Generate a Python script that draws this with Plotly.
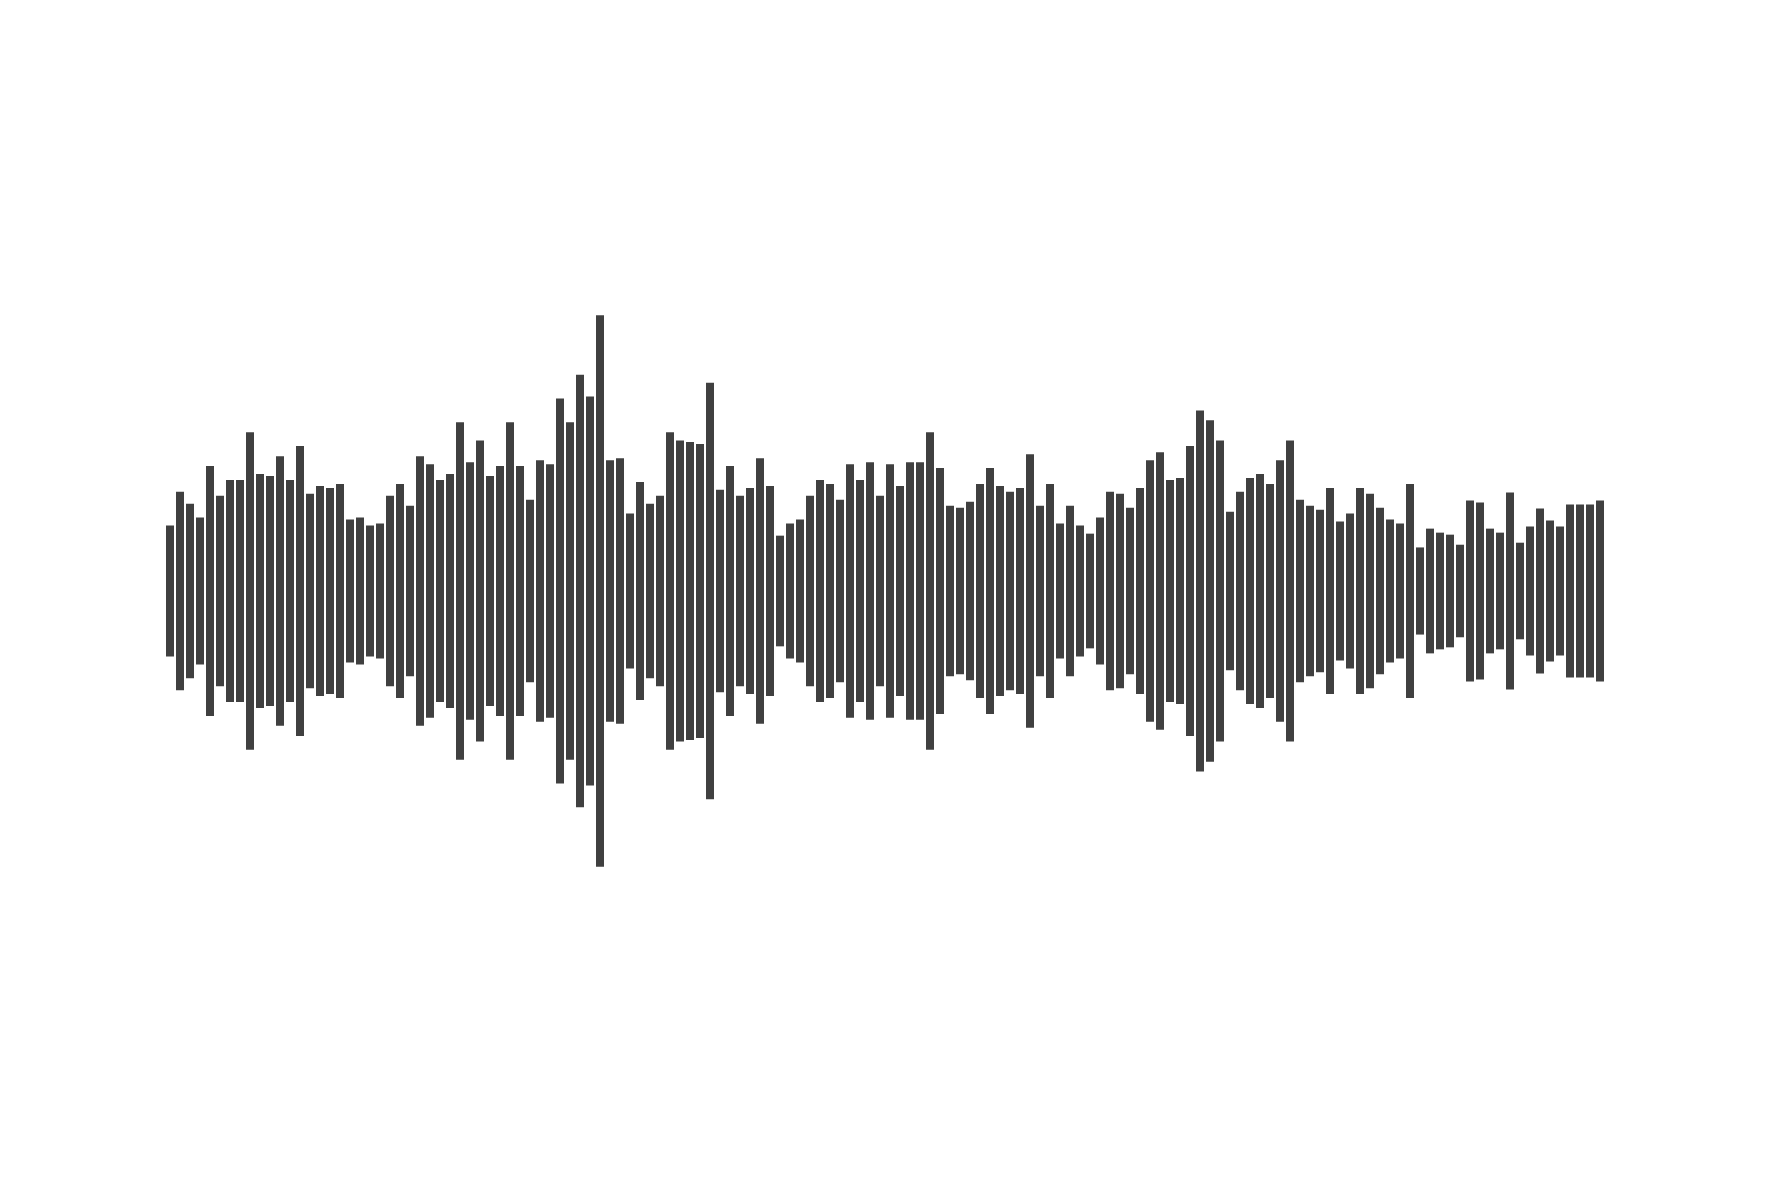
import plotly.graph_objects as go

# half height of every bar in the waveform, left to right
amplitude = [
    65, 98.7, 86.7, 73, 124.3, 94.7, 110.3, 110.3, 157.7, 116.3,
    114.3, 134, 110.3, 144, 96.7, 104.3, 102.3, 106.3, 71, 73,
    65, 67, 94.7, 106.3, 84.7, 134, 126, 110.3, 116.3, 167.7,
    128, 149.7, 114.3, 124.3, 167.7, 124.3, 90.7, 130, 126, 191.3,
    167.7, 215, 193.3, 274, 130, 132, 77, 108.3, 86.7, 94.7,
    157.7, 149.7, 148, 146, 207, 100.7, 124.3, 94.7, 102.3, 132,
    104.3, 55, 67, 71, 94.7, 110.3, 106.3, 90.7, 126, 110.3,
    128, 94.7, 126, 104.3, 128, 128, 157.7, 122.3, 84.7, 82.7,
    88.7, 106.3, 122.3, 104.3, 98.7, 102.3, 136, 84.7, 106.3, 67,
    84.7, 65, 57, 73, 98.7, 96.7, 82.7, 102.3, 130, 138,
    110.3, 112.3, 144, 179.3, 169.7, 149.7, 78.7, 98.7, 112.3, 116.3,
    106.3, 130, 149.7, 90.7, 84.7, 80.7, 102.3, 69, 77, 102.3,
    96.7, 82.7, 71, 67, 106.3, 43.3, 62, 58, 56, 46,
    90, 88, 62, 58, 98, 48, 64, 82, 70, 64,
    86, 86, 86, 90,
]
position = list(range(1, len(amplitude) + 1))

bar_color = "#404040"

fig = go.Figure()
fig.add_trace(go.Bar(
    x=position,
    y=[2 * a for a in amplitude],
    base=[-a for a in amplitude],
    marker=dict(color=bar_color, line=dict(width=0)),
    hoverinfo="skip",
))

# the page body adds 8px, so the margins are shifted to compensate
fig.update_layout(
    width=1770,
    height=1180,
    margin=dict(l=157, r=173, t=93, b=107),
    bargap=0.2,
    showlegend=False,
    paper_bgcolor="white",
    plot_bgcolor="white",
)
fig.update_xaxes(visible=False, range=[0.5, len(amplitude) + 0.5])
fig.update_yaxes(visible=False, range=[-487, 487])

fig.write_html("out.html")
